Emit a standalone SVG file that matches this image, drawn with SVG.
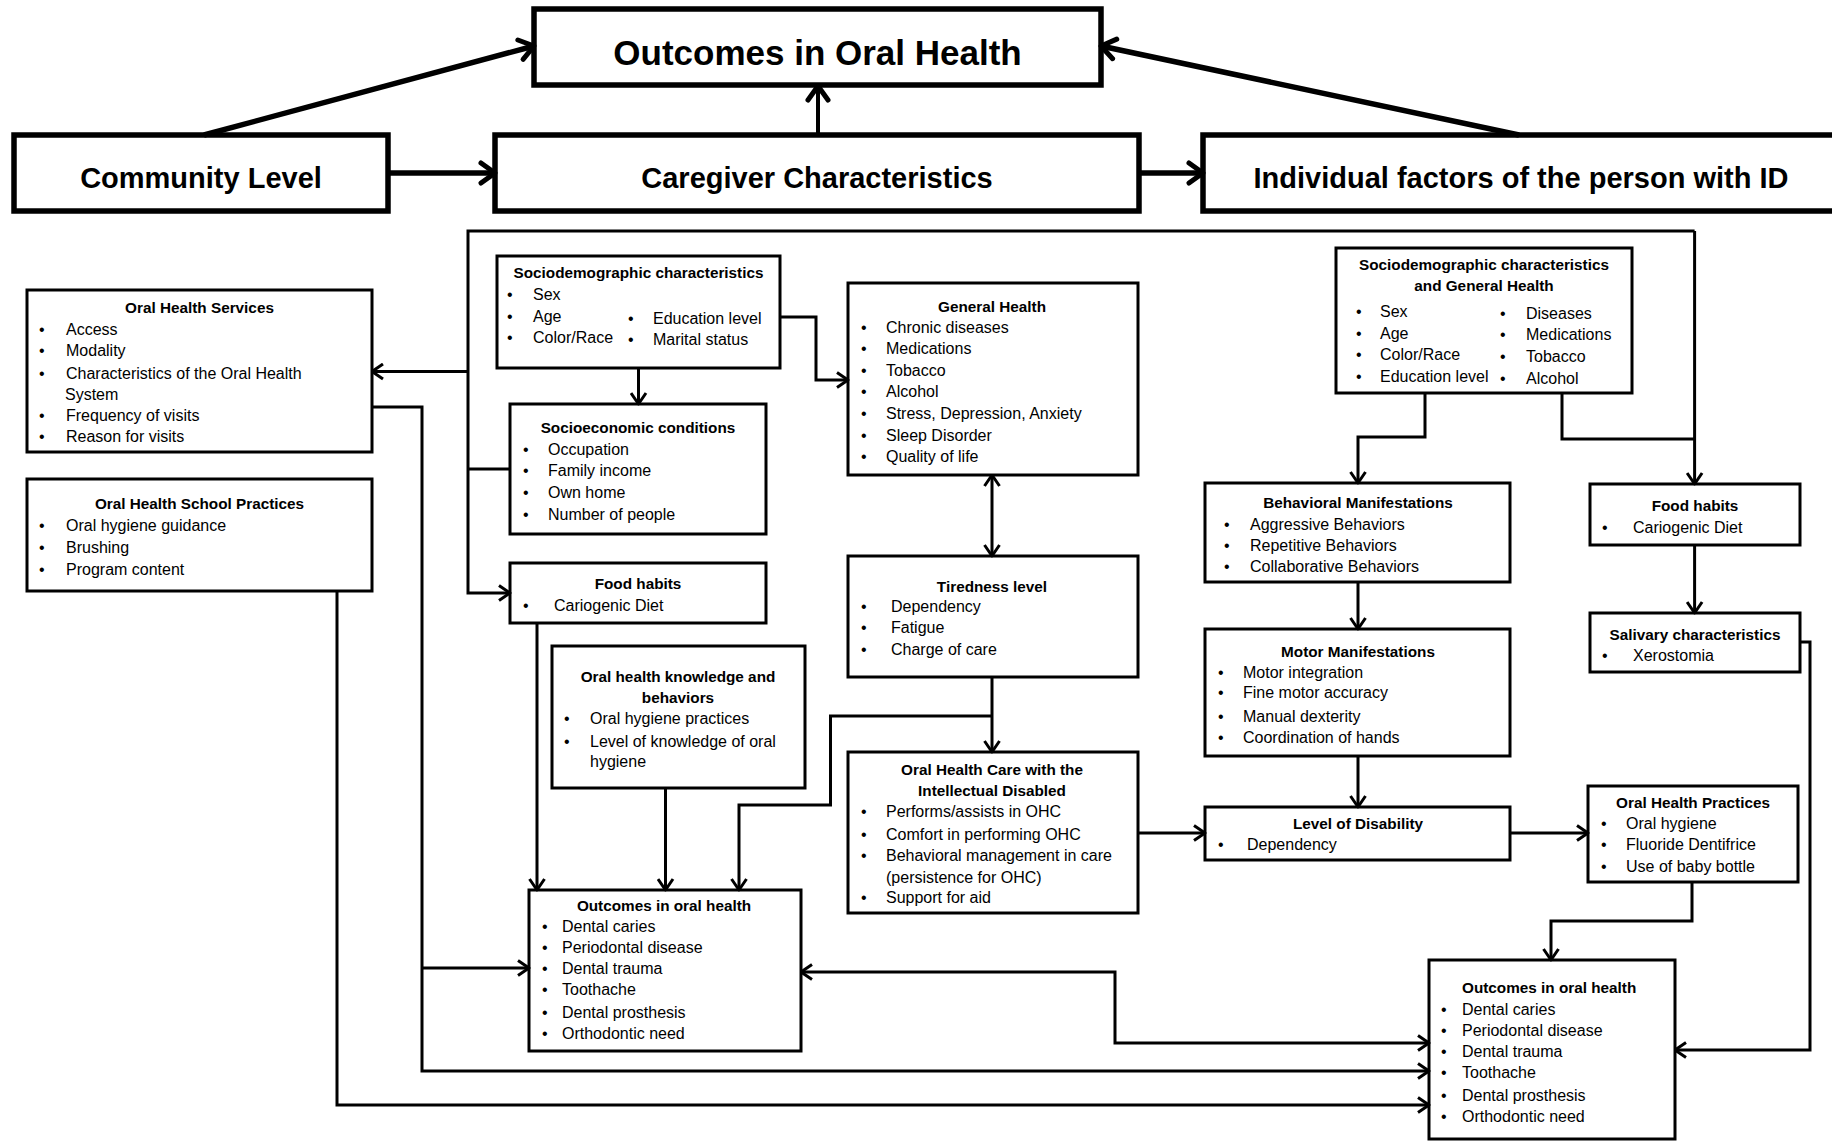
<svg xmlns="http://www.w3.org/2000/svg" width="1832" height="1141" viewBox="0 0 1832 1141">
<defs>
<style>
.box{fill:#fff;stroke:#000;stroke-width:3}
.tbox{fill:#fff;stroke:#000;stroke-width:5.5}
.h1{font-family:"Liberation Sans",Arial,sans-serif;font-weight:bold;font-size:35px;text-anchor:middle;fill:#000}
.h2{font-family:"Liberation Sans",Arial,sans-serif;font-weight:bold;font-size:29px;text-anchor:middle;fill:#000}
.t{font-family:"Liberation Sans",Arial,sans-serif;font-weight:bold;font-size:15.3px;text-anchor:middle;fill:#000}
.i{font-family:"Liberation Sans",Arial,sans-serif;font-size:16px;fill:#000}
.c{fill:none;stroke:#000;stroke-width:3;stroke-linejoin:miter}
.ct{fill:none;stroke:#000;stroke-width:5.5}
</style>
<marker id="a" markerUnits="userSpaceOnUse" viewBox="0 0 14 18" markerWidth="14" markerHeight="18" refX="12.5" refY="9" orient="auto-start-reverse">
<path d="M1.5,1.5 L12.5,9 L1.5,16.5" fill="none" stroke="#000" stroke-width="3" stroke-linejoin="round"/>
</marker>
<marker id="A" markerUnits="userSpaceOnUse" viewBox="0 0 20 26" markerWidth="20" markerHeight="26" refX="17" refY="13" orient="auto">
<path d="M3,3 L17,13 L3,23" fill="none" stroke="#000" stroke-width="5" stroke-linejoin="round" stroke-linecap="round"/>
</marker>
</defs>

<g id="top-outcomes">
<rect class="tbox" x="534" y="9" width="567" height="76"/>
<text class="h1" x="817.5" y="65">Outcomes in Oral Health</text>
</g>
<g id="community-level">
<rect class="tbox" x="14" y="135" width="374" height="76"/>
<text class="h2" x="201" y="188">Community Level</text>
</g>
<g id="caregiver-characteristics">
<rect class="tbox" x="495" y="135" width="644" height="76"/>
<text class="h2" x="817" y="188">Caregiver Characteristics</text>
</g>
<g id="individual-factors">
<rect class="tbox" x="1203" y="135" width="700" height="76"/>
<text class="h2" x="1521" y="188">Individual factors of the person with ID</text>
</g>

<g id="oral-health-services">
<rect class="box" x="27" y="290" width="345" height="162"/>
<text class="t" x="199.5" y="313">Oral Health Services</text>
<g class="i">
<text x="39" y="335">•</text><text x="66" y="335">Access</text>
<text x="39" y="356">•</text><text x="66" y="356">Modality</text>
<text x="39" y="379">•</text><text x="66" y="379">Characteristics of the Oral Health</text>
<text x="65" y="400">System</text>
<text x="39" y="421">•</text><text x="66" y="421">Frequency of visits</text>
<text x="39" y="442">•</text><text x="66" y="442">Reason for visits</text>
</g>
</g>

<g id="oral-health-school-practices">
<rect class="box" x="27" y="479" width="345" height="112"/>
<text class="t" x="199.5" y="509">Oral Health School Practices</text>
<g class="i">
<text x="39" y="531">•</text><text x="66" y="531">Oral hygiene guidance</text>
<text x="39" y="553">•</text><text x="66" y="553">Brushing</text>
<text x="39" y="575">•</text><text x="66" y="575">Program content</text>
</g>
</g>

<g id="caregiver-sociodemographic">
<rect class="box" x="497" y="256" width="283" height="112"/>
<text class="t" x="638.5" y="278">Sociodemographic characteristics</text>
<g class="i">
<text x="507" y="300">•</text><text x="533" y="300">Sex</text>
<text x="507" y="322">•</text><text x="533" y="322">Age</text>
<text x="507" y="343">•</text><text x="533" y="343">Color/Race</text>
<text x="628" y="324">•</text><text x="653" y="324">Education level</text>
<text x="628" y="345">•</text><text x="653" y="345">Marital status</text>
</g>
</g>

<g id="socioeconomic-conditions">
<rect class="box" x="510" y="404" width="256" height="130"/>
<text class="t" x="638" y="433">Socioeconomic conditions</text>
<g class="i">
<text x="523" y="455">•</text><text x="548" y="455">Occupation</text>
<text x="523" y="476">•</text><text x="548" y="476">Family income</text>
<text x="523" y="498">•</text><text x="548" y="498">Own home</text>
<text x="523" y="520">•</text><text x="548" y="520">Number of people</text>
</g>
</g>

<g id="caregiver-food-habits">
<rect class="box" x="510" y="563" width="256" height="60"/>
<text class="t" x="638" y="589">Food habits</text>
<g class="i">
<text x="523" y="611">•</text><text x="554" y="611">Cariogenic Diet</text>
</g>
</g>

<g id="general-health">
<rect class="box" x="848" y="283" width="290" height="192"/>
<text class="t" x="992" y="312">General Health</text>
<g class="i">
<text x="861" y="333">•</text><text x="886" y="333">Chronic diseases</text>
<text x="861" y="354">•</text><text x="886" y="354">Medications</text>
<text x="861" y="376">•</text><text x="886" y="376">Tobacco</text>
<text x="861" y="397">•</text><text x="886" y="397">Alcohol</text>
<text x="861" y="419">•</text><text x="886" y="419">Stress, Depression, Anxiety</text>
<text x="861" y="441">•</text><text x="886" y="441">Sleep Disorder</text>
<text x="861" y="462">•</text><text x="886" y="462">Quality of life</text>
</g>
</g>

<g id="tiredness-level">
<rect class="box" x="848" y="556" width="290" height="121"/>
<text class="t" x="992" y="592">Tiredness level</text>
<g class="i">
<text x="861" y="612">•</text><text x="891" y="612">Dependency</text>
<text x="861" y="633">•</text><text x="891" y="633">Fatigue</text>
<text x="861" y="655">•</text><text x="891" y="655">Charge of care</text>
</g>
</g>

<g id="oral-health-knowledge">
<rect class="box" x="552" y="646" width="253" height="142"/>
<text class="t" x="678" y="682">Oral health knowledge and</text>
<text class="t" x="678" y="703">behaviors</text>
<g class="i">
<text x="564" y="724">•</text><text x="590" y="724">Oral hygiene practices</text>
<text x="564" y="747">•</text><text x="590" y="747">Level of knowledge of oral</text>
<text x="590" y="767">hygiene</text>
</g>
</g>

<g id="oral-health-care-id">
<rect class="box" x="848" y="752" width="290" height="161"/>
<text class="t" x="992" y="775">Oral Health Care with the</text>
<text class="t" x="992" y="796">Intellectual Disabled</text>
<g class="i">
<text x="861" y="817">•</text><text x="886" y="817">Performs/assists in OHC</text>
<text x="861" y="840">•</text><text x="886" y="840">Comfort in performing OHC</text>
<text x="861" y="861">•</text><text x="886" y="861">Behavioral management in care</text>
<text x="886" y="883">(persistence for OHC)</text>
<text x="861" y="903">•</text><text x="886" y="903">Support for aid</text>
</g>
</g>

<g id="caregiver-outcomes">
<rect class="box" x="529" y="890" width="272" height="161"/>
<text class="t" x="664" y="911">Outcomes in oral health</text>
<g class="i">
<text x="542" y="932">•</text><text x="562" y="932">Dental caries</text>
<text x="542" y="953">•</text><text x="562" y="953">Periodontal disease</text>
<text x="542" y="974">•</text><text x="562" y="974">Dental trauma</text>
<text x="542" y="995">•</text><text x="562" y="995">Toothache</text>
<text x="542" y="1018">•</text><text x="562" y="1018">Dental prosthesis</text>
<text x="542" y="1039">•</text><text x="562" y="1039">Orthodontic need</text>
</g>
</g>

<g id="id-sociodemographic">
<rect class="box" x="1336" y="248" width="296" height="145"/>
<text class="t" x="1484" y="270">Sociodemographic characteristics</text>
<text class="t" x="1484" y="291">and General Health</text>
<g class="i">
<text x="1356" y="317">•</text><text x="1380" y="317">Sex</text>
<text x="1356" y="339">•</text><text x="1380" y="339">Age</text>
<text x="1356" y="360">•</text><text x="1380" y="360">Color/Race</text>
<text x="1356" y="382">•</text><text x="1380" y="382">Education level</text>
<text x="1500" y="319">•</text><text x="1526" y="319">Diseases</text>
<text x="1500" y="340">•</text><text x="1526" y="340">Medications</text>
<text x="1500" y="362">•</text><text x="1526" y="362">Tobacco</text>
<text x="1500" y="384">•</text><text x="1526" y="384">Alcohol</text>
</g>
</g>

<g id="behavioral-manifestations">
<rect class="box" x="1205" y="483" width="305" height="99"/>
<text class="t" x="1358" y="508">Behavioral Manifestations</text>
<g class="i">
<text x="1224" y="530">•</text><text x="1250" y="530">Aggressive Behaviors</text>
<text x="1224" y="551">•</text><text x="1250" y="551">Repetitive Behaviors</text>
<text x="1224" y="572">•</text><text x="1250" y="572">Collaborative Behaviors</text>
</g>
</g>

<g id="motor-manifestations">
<rect class="box" x="1205" y="629" width="305" height="127"/>
<text class="t" x="1358" y="657">Motor Manifestations</text>
<g class="i">
<text x="1218" y="678">•</text><text x="1243" y="678">Motor integration</text>
<text x="1218" y="698">•</text><text x="1243" y="698">Fine motor accuracy</text>
<text x="1218" y="722">•</text><text x="1243" y="722">Manual dexterity</text>
<text x="1218" y="743">•</text><text x="1243" y="743">Coordination of hands</text>
</g>
</g>

<g id="level-of-disability">
<rect class="box" x="1205" y="807" width="305" height="53"/>
<text class="t" x="1358" y="829">Level of Disability</text>
<g class="i">
<text x="1218" y="850">•</text><text x="1247" y="850">Dependency</text>
</g>
</g>

<g id="id-food-habits">
<rect class="box" x="1590" y="484" width="210" height="61"/>
<text class="t" x="1695" y="511">Food habits</text>
<g class="i">
<text x="1602" y="533">•</text><text x="1633" y="533">Cariogenic Diet</text>
</g>
</g>

<g id="salivary-characteristics">
<rect class="box" x="1590" y="613" width="210" height="59"/>
<text class="t" x="1695" y="640">Salivary characteristics</text>
<g class="i">
<text x="1602" y="661">•</text><text x="1633" y="661">Xerostomia</text>
</g>
</g>

<g id="oral-health-practices">
<rect class="box" x="1588" y="786" width="210" height="96"/>
<text class="t" x="1693" y="808">Oral Health Practices</text>
<g class="i">
<text x="1601" y="829">•</text><text x="1626" y="829">Oral hygiene</text>
<text x="1601" y="850">•</text><text x="1626" y="850">Fluoride Dentifrice</text>
<text x="1601" y="872">•</text><text x="1626" y="872">Use of baby bottle</text>
</g>
</g>

<g id="id-outcomes">
<rect class="box" x="1429" y="960" width="246" height="179"/>
<text class="t" x="1462" y="993" style="text-anchor:start">Outcomes in oral health</text>
<g class="i">
<text x="1441" y="1015">•</text><text x="1462" y="1015">Dental caries</text>
<text x="1441" y="1036">•</text><text x="1462" y="1036">Periodontal disease</text>
<text x="1441" y="1057">•</text><text x="1462" y="1057">Dental trauma</text>
<text x="1441" y="1078">•</text><text x="1462" y="1078">Toothache</text>
<text x="1441" y="1101">•</text><text x="1462" y="1101">Dental prosthesis</text>
<text x="1441" y="1122">•</text><text x="1462" y="1122">Orthodontic need</text>
</g>
</g>

<g id="connectors">
<path class="ct" d="M388,173 H495" marker-end="url(#A)"/>
<path class="ct" d="M1139,173 H1203" marker-end="url(#A)"/>
<path class="ct" d="M818,135 V86" style="stroke-width:4" marker-end="url(#A)"/>
<path class="ct" d="M204,135 L534,46" marker-end="url(#A)"/>
<path class="ct" d="M1519,135 L1101,46" marker-end="url(#A)"/>

<path class="c" d="M1694.6,231 H468 V593 H510" marker-end="url(#a)"/>
<path class="c" d="M1694.6,231 V484" marker-end="url(#a)"/>
<path class="c" d="M468,371.5 H372" marker-end="url(#a)"/>
<path class="c" d="M468,469 H510"/>
<path class="c" d="M638.5,368 V404" marker-end="url(#a)"/>
<path class="c" d="M780,317 H816 V380 H848" marker-end="url(#a)"/>
<path class="c" d="M992,475 V556" marker-start="url(#a)" marker-end="url(#a)"/>
<path class="c" d="M992,677 V752" marker-end="url(#a)"/>
<path class="c" d="M992,716 H830.5 V805 H739 V890" marker-end="url(#a)"/>
<path class="c" d="M537,623 V890" marker-end="url(#a)"/>
<path class="c" d="M665.5,788 V890" marker-end="url(#a)"/>
<path class="c" d="M372,407 H422 V1071 H1429" marker-end="url(#a)"/>
<path class="c" d="M422,968 H529" marker-end="url(#a)"/>
<path class="c" d="M337,591 V1105 H1429" marker-end="url(#a)"/>
<path class="c" d="M801,972 H1115 V1043 H1429" marker-start="url(#a)" marker-end="url(#a)"/>
<path class="c" d="M1138,833 H1205" marker-end="url(#a)"/>
<path class="c" d="M1510,833 H1588" marker-end="url(#a)"/>
<path class="c" d="M1358,582 V629" marker-end="url(#a)"/>
<path class="c" d="M1358,756 V807" marker-end="url(#a)"/>
<path class="c" d="M1425,393 V437 H1358 V483" marker-end="url(#a)"/>
<path class="c" d="M1562,393 V439 H1694.6"/>
<path class="c" d="M1694.6,545 V613" marker-end="url(#a)"/>
<path class="c" d="M1800,642 H1810 V1050 H1675" marker-end="url(#a)"/>
<path class="c" d="M1692,882 V921 H1551 V960" marker-end="url(#a)"/>
</g>
</svg>
